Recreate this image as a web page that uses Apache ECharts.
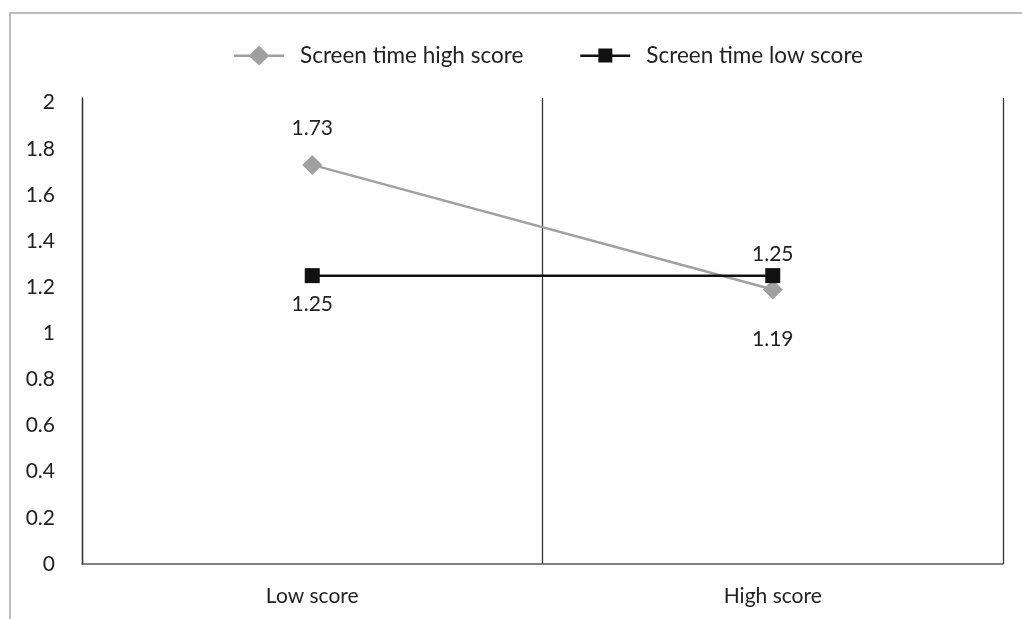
<!DOCTYPE html>
<html><head><meta charset="utf-8">
<script src="https://cdn.jsdelivr.net/npm/echarts@6/dist/echarts.min.js"></script>
<style>html,body{margin:0;padding:0;background:#fff}#c{width:1022px;height:619px}</style>
</head><body><div id="c"></div>
<script>
const categories = ['Low score', 'High score'];
const highScreen = [1.73, 1.19];
const lowScreen = [1.25, 1.25];
const seriesNames = ['Screen time high score', 'Screen time low score'];

const FONT = 'Lato';
const chart = echarts.init(document.getElementById('c'), null, {renderer: 'canvas'});

function lbl(pos, dist) {
  return {show: true, position: pos, distance: dist, fontFamily: FONT, fontSize: 21, color: '#222', formatter: p => p.value.toFixed(2)};
}

const diamondIcon = 'path://M0,9 L16,9 L25,0 L34,9 L50,9 L50,11.5 L34,11.5 L25,20 L16,11.5 L0,11.5 Z';
const squareIcon = 'path://M0,9 L18,9 L18,3 L32,3 L32,9 L50,9 L50,11.5 L32,11.5 L32,17 L18,17 L18,11.5 L0,11.5 Z';

chart.setOption({
  animation: false,
  backgroundColor: '#fff',
  graphic: [{type: 'rect', shape: {x: 10, y: 13, width: 1200, height: 800}, style: {fill: 'none', stroke: '#a8a8a8', lineWidth: 1.5}, silent: true, z: -1}],
  legend: {
    top: 39, left: 229,
    itemWidth: 50, itemHeight: 20, itemGap: 57,
    textStyle: {fontFamily: FONT, fontSize: 22.5, color: '#222', padding: [0, 0, 0, 11]},
    data: [{name: seriesNames[0], icon: diamondIcon}, {name: seriesNames[1], icon: squareIcon}]
  },
  grid: {left: 82, right: 19, top: 98, bottom: 55},
  xAxis: {
    type: 'category', data: categories, boundaryGap: true,
    axisLine: {lineStyle: {color: '#555', width: 1.5}},
    axisTick: {show: false},
    splitLine: {show: true, lineStyle: {color: '#333', width: 1.3}},
    axisLabel: {fontFamily: FONT, fontSize: 21, color: '#222', margin: 22}
  },
  yAxis: {
    type: 'value', min: 0, max: 2.02, interval: 0.2,
    axisLine: {show: true, lineStyle: {color: '#333', width: 1.3}},
    axisTick: {show: false},
    splitLine: {show: false},
    axisLabel: {fontFamily: FONT, fontSize: 21, color: '#222', margin: 27, showMaxLabel: false,
      formatter: v => String(Math.round(v * 10) / 10)}
  },
  series: [
    {
      name: seriesNames[0], type: 'line', data: highScreen.map((v, i) => ({value: v, label: i === 0 ? lbl('top', 16) : lbl('bottom', 29)})),
      symbol: 'diamond', symbolSize: 20,
      lineStyle: {color: '#a0a0a0', width: 2.5}, itemStyle: {color: '#a0a0a0'},
      z: 2
    },
    {
      name: seriesNames[1], type: 'line', data: lowScreen.map((v, i) => ({value: v, label: i === 0 ? lbl('bottom', 11) : lbl('top', 3)})),
      symbol: 'rect', symbolSize: 15,
      lineStyle: {color: '#111', width: 2.5}, itemStyle: {color: '#111'},
      z: 3
    }
  ]
});
</script></body></html>
